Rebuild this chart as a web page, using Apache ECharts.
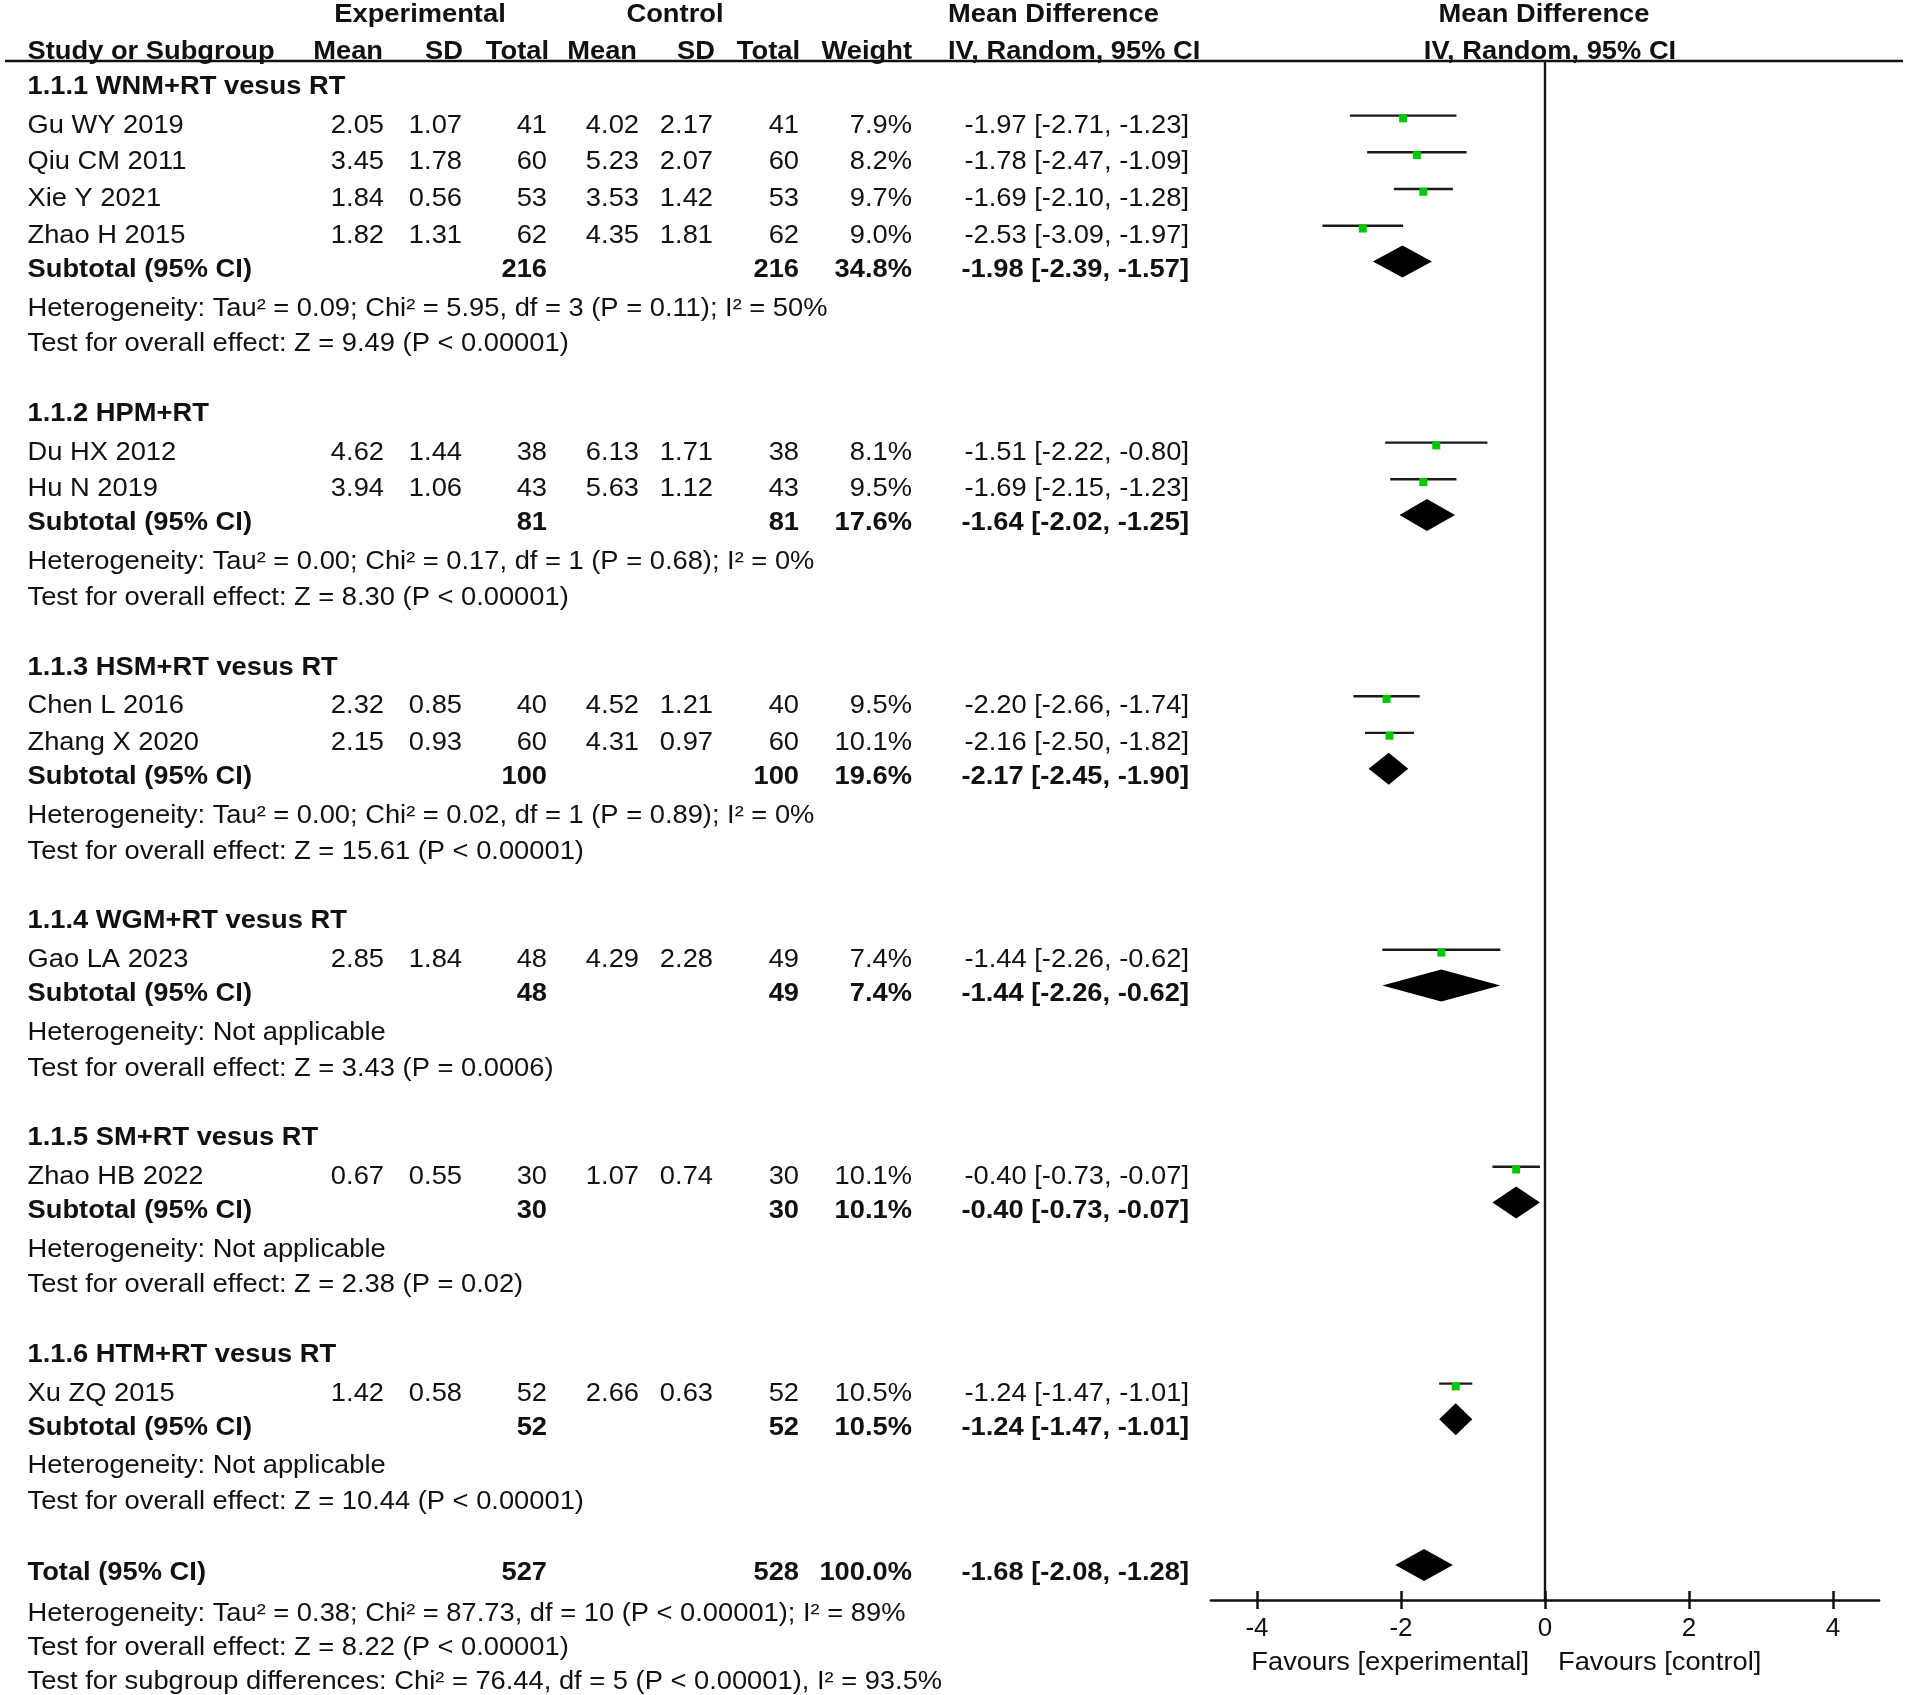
<!DOCTYPE html>
<html>
<head>
<meta charset="utf-8">
<script src="https://cdn.jsdelivr.net/npm/echarts@6/dist/echarts.min.js"></script>
<style>
html,body{margin:0;padding:0;background:#fff;}
#chart{width:1908px;height:1695px;}
</style>
</head>
<body>
<div id="chart"></div>
<script>
// ---------------- data ----------------
const studyNames = ['Gu WY 2019','Qiu CM 2011','Xie Y 2021','Zhao H 2015','Du HX 2012','Hu N 2019','Chen L 2016','Zhang X 2020','Gao LA 2023','Zhao HB 2022','Xu ZQ 2015'];
const studyGroup = [0,0,0,0,1,1,2,2,3,4,5];
const expMean  = [2.05,3.45,1.84,1.82,4.62,3.94,2.32,2.15,2.85,0.67,1.42];
const expSD    = [1.07,1.78,0.56,1.31,1.44,1.06,0.85,0.93,1.84,0.55,0.58];
const expTotal = [41,60,53,62,38,43,40,60,48,30,52];
const ctlMean  = [4.02,5.23,3.53,4.35,6.13,5.63,4.52,4.31,4.29,1.07,2.66];
const ctlSD    = [2.17,2.07,1.42,1.81,1.71,1.12,1.21,0.97,2.28,0.74,0.63];
const ctlTotal = [41,60,53,62,38,43,40,60,49,30,52];
const studyWeight = [7.9,8.2,9.7,9.0,8.1,9.5,9.5,10.1,7.4,10.1,10.5];
const studyMD = [-1.97,-1.78,-1.69,-2.53,-1.51,-1.69,-2.20,-2.16,-1.44,-0.40,-1.24];
const studyLo = [-2.71,-2.47,-2.10,-3.09,-2.22,-2.15,-2.66,-2.50,-2.26,-0.73,-1.47];
const studyHi = [-1.23,-1.09,-1.28,-1.97,-0.80,-1.23,-1.74,-1.82,-0.62,-0.07,-1.01];

const groupTitles = ['1.1.1 WNM+RT vesus RT','1.1.2 HPM+RT','1.1.3 HSM+RT vesus RT','1.1.4 WGM+RT vesus RT','1.1.5 SM+RT vesus RT','1.1.6 HTM+RT vesus RT'];
const subExpTotal = [216,81,100,48,30,52];
const subCtlTotal = [216,81,100,49,30,52];
const subWeight = [34.8,17.6,19.6,7.4,10.1,10.5];
const subMD = [-1.98,-1.64,-2.17,-1.44,-0.40,-1.24];
const subLo = [-2.39,-2.02,-2.45,-2.26,-0.73,-1.47];
const subHi = [-1.57,-1.25,-1.90,-0.62,-0.07,-1.01];
const hetTexts = [
  'Heterogeneity: Tau² = 0.09; Chi² = 5.95, df = 3 (P = 0.11); I² = 50%',
  'Heterogeneity: Tau² = 0.00; Chi² = 0.17, df = 1 (P = 0.68); I² = 0%',
  'Heterogeneity: Tau² = 0.00; Chi² = 0.02, df = 1 (P = 0.89); I² = 0%',
  'Heterogeneity: Not applicable',
  'Heterogeneity: Not applicable',
  'Heterogeneity: Not applicable'
];
const effectTexts = [
  'Test for overall effect: Z = 9.49 (P < 0.00001)',
  'Test for overall effect: Z = 8.30 (P < 0.00001)',
  'Test for overall effect: Z = 15.61 (P < 0.00001)',
  'Test for overall effect: Z = 3.43 (P = 0.0006)',
  'Test for overall effect: Z = 2.38 (P = 0.02)',
  'Test for overall effect: Z = 10.44 (P < 0.00001)'
];
const totalCounts = [527, 528];
const totalWeight = [100.0];
const totalEffect = [-1.68, -2.08, -1.28]; // md, lo, hi
const totalTexts = [
  'Heterogeneity: Tau² = 0.38; Chi² = 87.73, df = 10 (P < 0.00001); I² = 89%',
  'Test for overall effect: Z = 8.22 (P < 0.00001)',
  'Test for subgroup differences: Chi² = 76.44, df = 5 (P < 0.00001), I² = 93.5%'
];
const headerTop = ['Experimental','Control','Mean Difference','Mean Difference'];
const headerCols = ['Study or Subgroup','Mean','SD','Total','Mean','SD','Total','Weight','IV, Random, 95% CI','IV, Random, 95% CI'];
const xTicks = [-4,-2,0,2,4];
const favourLabels = ['Favours [experimental]','Favours [control]'];

// ---------------- layout ----------------
const FONT = '"Liberation Sans", Arial, Helvetica, sans-serif';
const GRID_TOP = 61, GRID_H = 1539, ROW = 36.7;
const Y_MAX = GRID_H / ROW;
const ZERO_X = 1545, PX_UNIT = 72, AXIS_EXT = 4.64;
const COL = {name:27.5, eMean:384, eSD:462, eN:547, cMean:639, cSD:713, cN:799, w:912, ci:1189};
const SCALE_X = 1.05;

const f2 = v => v.toFixed(2);
const ciText = (m,l,h) => f2(m) + ' [' + f2(l) + ', ' + f2(h) + ']';
const cell = (text, x, align, bold) => ({text, x, align, bold: !!bold});

const rows = [];
rows.push({y: -1.25, cells: [
  cell(headerTop[0], 420, 'center', true), cell(headerTop[1], 675, 'center', true),
  cell(headerTop[2], 948, 'left', true), cell(headerTop[3], 1544, 'center', true)
]});
rows.push({y: -0.245, cells: [
  cell(headerCols[0], COL.name, 'left', true), cell(headerCols[1], 383, 'right', true),
  cell(headerCols[2], 463, 'right', true), cell(headerCols[3], 549, 'right', true),
  cell(headerCols[4], 637, 'right', true), cell(headerCols[5], 715, 'right', true),
  cell(headerCols[6], 800, 'right', true), cell(headerCols[7], 912, 'right', true),
  cell(headerCols[8], 948, 'left', true), cell(headerCols[9], 1550, 'center', true)
]});

const studyY = [], subY = [];
let y = 0.71;
groupTitles.forEach((title, g) => {
  rows.push({y, cells: [cell(title, COL.name, 'left', true)]});
  y += 1.05;
  let first = true;
  studyNames.forEach((nm, i) => {
    if (studyGroup[i] !== g) return;
    if (!first) y += 1.0;
    first = false;
    studyY[i] = y;
    rows.push({y, cells: [
      cell(nm, COL.name, 'left'), cell(f2(expMean[i]), COL.eMean, 'right'),
      cell(f2(expSD[i]), COL.eSD, 'right'), cell(String(expTotal[i]), COL.eN, 'right'),
      cell(f2(ctlMean[i]), COL.cMean, 'right'), cell(f2(ctlSD[i]), COL.cSD, 'right'),
      cell(String(ctlTotal[i]), COL.cN, 'right'), cell(studyWeight[i].toFixed(1) + '%', COL.w, 'right'),
      cell(ciText(studyMD[i], studyLo[i], studyHi[i]), COL.ci, 'right')
    ]});
  });
  y += 0.92;
  subY[g] = y;
  rows.push({y, cells: [
    cell('Subtotal (95% CI)', COL.name, 'left', true), cell(String(subExpTotal[g]), COL.eN, 'right', true),
    cell(String(subCtlTotal[g]), COL.cN, 'right', true), cell(subWeight[g].toFixed(1) + '%', COL.w, 'right', true),
    cell(ciText(subMD[g], subLo[g], subHi[g]), COL.ci, 'right', true)
  ]});
  y += 1.06;
  rows.push({y, cells: [cell(hetTexts[g], COL.name, 'left')]});
  y += 0.98;
  rows.push({y, cells: [cell(effectTexts[g], COL.name, 'left')]});
  if (g < groupTitles.length - 1) y += 1.9;
});
y += 1.93;
const totalY = y;
rows.push({y, cells: [
  cell('Total (95% CI)', COL.name, 'left', true), cell(String(totalCounts[0]), COL.eN, 'right', true),
  cell(String(totalCounts[1]), COL.cN, 'right', true), cell(totalWeight[0].toFixed(1) + '%', COL.w, 'right', true),
  cell(ciText(totalEffect[0], totalEffect[1], totalEffect[2]), COL.ci, 'right', true)
]});
y += 1.1;  rows.push({y, cells: [cell(totalTexts[0], COL.name, 'left')]});
y += 0.93; rows.push({y, cells: [cell(totalTexts[1], COL.name, 'left')]});
y += 0.93; rows.push({y, cells: [cell(totalTexts[2], COL.name, 'left')]});

// ---------------- render helpers ----------------
const TXT_COLOR = '#111';
function textEl(c, x, yy) {
  return {
    type: 'text', x: x, y: yy, scaleX: SCALE_X, silent: true,
    style: {
      text: c.text, x: 0, y: 0,
      align: c.align, verticalAlign: 'middle',
      textAlign: c.align, textVerticalAlign: 'middle',
      fontSize: 26, fontFamily: FONT, fontWeight: c.bold ? 'bold' : 'normal',
      fill: TXT_COLOR
    }
  };
}
function renderTable(params, api) {
  const r = rows[api.value(0)];
  const py = api.coord([0, api.value(1)])[1];
  return {type: 'group', children: r.cells.map(c => textEl(c, c.x, py))};
}
function renderStudy(params, api) {
  const yy = api.value(3);
  const pm = api.coord([api.value(0), yy]);
  const pl = api.coord([api.value(1), yy]);
  const ph = api.coord([api.value(2), yy]);
  const ly = pm[1] - 10;
  return {type: 'group', children: [
    {type: 'line', shape: {x1: pl[0], y1: ly, x2: ph[0], y2: ly}, style: {stroke: '#1a1a1a', lineWidth: 2.4}},
    {type: 'rect', shape: {x: pm[0] - 4, y: ly - 1.2, width: 8, height: 8}, style: {fill: '#00c800'}}
  ]};
}
function renderDiamond(params, api) {
  const yy = api.value(3);
  const pm = api.coord([api.value(0), yy]);
  const pl = api.coord([api.value(1), yy]);
  const ph = api.coord([api.value(2), yy]);
  const cy = pm[1] - 8;
  return {type: 'polygon', shape: {points: [[pl[0], cy], [pm[0], cy - 16], [ph[0], cy], [pm[0], cy + 16]]}, style: {fill: '#000'}};
}
function renderZero(params, api) {
  const p0 = api.coord([api.value(0), 0]);
  const p1 = api.coord([api.value(0), Y_MAX]);
  return {type: 'line', shape: {x1: p0[0], y1: p0[1], x2: p1[0], y2: p1[1]}, style: {stroke: '#111', lineWidth: 2.4}};
}

const studyData = studyNames.map((n, i) => [studyMD[i], studyLo[i], studyHi[i], studyY[i]]);
const diamondData = subMD.map((m, g) => [m, subLo[g], subHi[g], subY[g]]);
diamondData.push([totalEffect[0], totalEffect[1], totalEffect[2], totalY]);

const tMin = xTicks[0], tMax = xTicks[xTicks.length - 1], tInt = xTicks[1] - xTicks[0];
const innerLeft = ZERO_X + tMin * PX_UNIT;
const innerW = (tMax - tMin) * PX_UNIT;
const outerLeft = ZERO_X - AXIS_EXT * PX_UNIT;
const outerW = 2 * AXIS_EXT * PX_UNIT;
const tickStyle = {color: '#111', width: 2.5};

const chart = echarts.init(document.getElementById('chart'), null, {renderer: 'canvas'});
chart.setOption({
  backgroundColor: '#fff',
  animation: false,
  textStyle: {fontFamily: FONT},
  grid: [
    {left: outerLeft, top: GRID_TOP, width: outerW, height: GRID_H, containLabel: false, outerBoundsMode: 'none'},
    {left: innerLeft, top: GRID_TOP, width: innerW, height: GRID_H, containLabel: false, outerBoundsMode: 'none'}
  ],
  xAxis: [
    {gridIndex: 0, type: 'value', position: 'bottom', min: -AXIS_EXT, max: AXIS_EXT,
     axisLine: {show: true, onZero: false, lineStyle: {color: '#111', width: 2.6}},
     axisTick: {show: false}, axisLabel: {show: false}, splitLine: {show: false}},
    {gridIndex: 1, type: 'value', position: 'bottom', min: tMin, max: tMax, interval: tInt,
     axisLine: {show: false, onZero: false},
     axisTick: {show: true, inside: true, length: 9, lineStyle: tickStyle},
     axisLabel: {show: false}, splitLine: {show: false}},
    {gridIndex: 1, type: 'value', position: 'bottom', min: tMin, max: tMax, interval: tInt,
     axisLine: {show: false, onZero: false},
     axisTick: {show: true, inside: false, length: 9, lineStyle: tickStyle},
     axisLabel: {show: true, margin: 16, fontSize: 26, color: TXT_COLOR, fontFamily: FONT},
     splitLine: {show: false}}
  ],
  yAxis: [
    {gridIndex: 0, type: 'value', min: 0, max: 1, show: false},
    {gridIndex: 1, type: 'value', min: 0, max: Y_MAX, inverse: true, show: false}
  ],
  graphic: [
    {type: 'line', shape: {x1: 5, y1: GRID_TOP, x2: 1903, y2: GRID_TOP}, style: {stroke: '#111', lineWidth: 2.5}, silent: true},
    textEl(cell(favourLabels[0], 0, 'right'), ZERO_X - 16, 1663),
    textEl(cell(favourLabels[1], 0, 'left'), ZERO_X + 13, 1663)
  ],
  series: [
    {type: 'custom', name: 'zero', xAxisIndex: 1, yAxisIndex: 1, clip: false, silent: true,
     data: [[0]], encode: {x: 0}, renderItem: renderZero, z: 2},
    {type: 'custom', name: 'studies', xAxisIndex: 1, yAxisIndex: 1, clip: false, silent: true,
     data: studyData, encode: {x: [0, 1, 2], y: 3}, renderItem: renderStudy, z: 3},
    {type: 'custom', name: 'diamonds', xAxisIndex: 1, yAxisIndex: 1, clip: false, silent: true,
     data: diamondData, encode: {x: [0, 1, 2], y: 3}, renderItem: renderDiamond, z: 3},
    {type: 'custom', name: 'table', xAxisIndex: 1, yAxisIndex: 1, clip: false, silent: true,
     data: rows.map((r, i) => [i, r.y]), encode: {x: 0, y: 1}, renderItem: renderTable, z: 4}
  ]
});
</script>
</body>
</html>
